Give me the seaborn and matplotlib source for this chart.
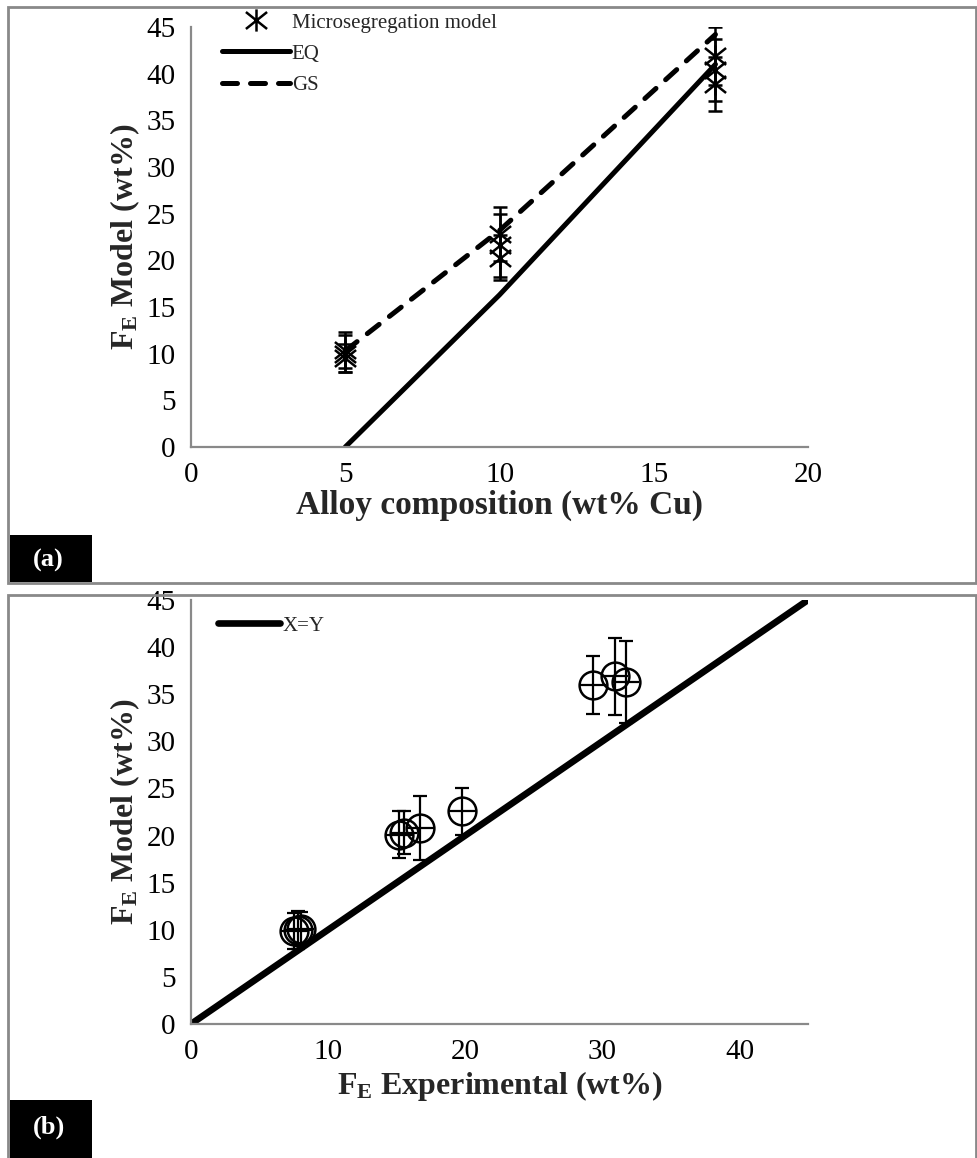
import matplotlib
matplotlib.use("Agg")
import matplotlib.pyplot as plt
import seaborn as sns
import numpy as np
import pandas as pd
from matplotlib.path import Path
from matplotlib.patches import Rectangle

# ---------------- data ----------------
# panel (a)
alloy_line = [5, 10, 17]
fe_eq = [0.0, 16.3, 41.0]
fe_gs = [10.3, 23.2, 44.2]
micro_x = [5, 5, 5, 10, 10, 10, 17, 17, 17]
micro_y = [9.5, 10.0, 10.4, 20.3, 21.6, 22.8, 38.9, 40.4, 41.9]
micro_err = [1.5, 2.0, 1.9, 2.4, 3.4, 2.9, 2.9, 3.3, 3.1]
xticks_a = [0, 5, 10, 15, 20]

# panel (b)
xy_line = [0, 45]
exp_x = [7.5, 7.8, 8.0, 15.2, 15.5, 16.7, 19.8, 29.3, 30.9, 31.7]
model_y = [9.9, 10.0, 10.1, 20.1, 20.3, 20.8, 22.6, 36.0, 36.9, 36.3]
model_err = [1.9, 2.0, 1.8, 2.5, 2.3, 3.4, 2.5, 3.1, 4.1, 4.4]
xticks_b = [0, 10, 20, 30, 40]
yticks = [0, 5, 10, 15, 20, 25, 30, 35, 40, 45]

# ---------------- style ----------------
sns.set_style("white")
plt.rcParams["font.family"] = ["Liberation Serif", "DejaVu Serif"]
plt.rcParams["mathtext.fontset"] = "custom"
plt.rcParams["mathtext.rm"] = "Liberation Serif"
plt.rcParams["mathtext.bf"] = "Liberation Serif:bold"
plt.rcParams["mathtext.it"] = "Liberation Serif:italic"

GRAY = "#898989"
W, H = 978, 1158
fig = plt.figure(figsize=(W / 100, H / 100), dpi=100)


def frac_rect(x0, y0, x1, y1):
    # pixel coords (top-left origin) -> figure fraction [l, b, w, h]
    return [x0 / W, (H - y1) / H, (x1 - x0) / W, (y1 - y0) / H]


# panel frames
for (x0, y0, x1, y1) in [(8, 7, 976, 583), (8, 595, 976, 1170)]:
    l, b, w, h = frac_rect(x0, y0, x1, y1)
    fig.add_artist(Rectangle((l, b), w, h, transform=fig.transFigure,
                             facecolor="none", edgecolor=GRAY, lw=2.0))

# label boxes
for (x0, y0, x1, y1, txt) in [(10, 535, 92, 582, "(a)"), (10, 1100, 92, 1160, "(b)")]:
    l, b, w, h = frac_rect(x0, y0, x1, y1)
    fig.add_artist(Rectangle((l, b), w, h, transform=fig.transFigure,
                             facecolor="black", edgecolor="none"))
    fig.text(l + w * 0.47, b + h * 0.45 if txt == "(a)" else b + h * 0.55, txt,
             color="white", fontsize=19, fontweight="bold",
             ha="center", va="center")

ax1 = fig.add_axes(frac_rect(191, 27, 808, 447))
ax2 = fig.add_axes(frac_rect(191, 600, 808, 1024))


def style_axes(ax):
    for s in ["top", "right"]:
        ax.spines[s].set_visible(False)
    for s in ["left", "bottom"]:
        ax.spines[s].set_color(GRAY)
        ax.spines[s].set_linewidth(1.6)
    ax.tick_params(axis="both", direction="out", length=6, width=1.4,
                   color=GRAY, labelsize=21, labelcolor="black", pad=5)
    ax.set_yticks(yticks)
    ax.set_ylim(0, 45)
    ax.grid(False)


# asterisk marker (X with vertical bar)
ast = Path([(-1, -0.8), (1, 0.8), (-1, 0.8), (1, -0.8), (0, -1.05), (0, 1.05)],
           [Path.MOVETO, Path.LINETO] * 3)

# ---------------- panel (a) ----------------
ax1.errorbar(micro_x, micro_y, yerr=micro_err, fmt="none", ecolor="black",
             elinewidth=1.8, capsize=5, capthick=1.8, zorder=3)
ax1.plot(micro_x, micro_y, linestyle="none", marker=ast, markersize=16,
         markeredgewidth=1.8, color="black", mfc="none", zorder=4,
         label="Microsegregation model")
sns.lineplot(x=alloy_line, y=fe_eq, ax=ax1, color="black", lw=3.6,
             label="EQ", zorder=2)
sns.lineplot(x=alloy_line, y=fe_gs, ax=ax1, color="black", lw=3.6,
             linestyle=(0, (3.0, 2.6)), dash_capstyle="round",
             label="GS", zorder=2)
style_axes(ax1)
ax1.set_xlim(0, 20)
ax1.set_xticks(xticks_a)
ax1.set_xlabel("Alloy composition (wt% Cu)", fontsize=24, fontweight="bold",
               labelpad=1)
ax1.set_ylabel(r"$\mathbf{F_E}$ Model (wt%)", fontsize=23, fontweight="bold",
               labelpad=3)
ax1.legend(loc="upper left", bbox_to_anchor=(0.05, 1.033), frameon=False,
           fontsize=15, handlelength=3.25, handletextpad=0.1,
           labelspacing=0.55, borderpad=0, borderaxespad=0)

# ---------------- panel (b) ----------------
sns.lineplot(x=xy_line, y=xy_line, ax=ax2, color="black", lw=4.8,
             label="X=Y", zorder=2)
ax2.errorbar(exp_x, model_y, yerr=model_err, fmt="none", ecolor="black",
             elinewidth=1.6, capsize=5, capthick=1.6, zorder=3)
ax2.errorbar(exp_x, model_y, xerr=[1.0] * len(exp_x), fmt="none",
             ecolor="black", elinewidth=1.6, capsize=0, zorder=3)
ax2.plot(exp_x, model_y, linestyle="none", marker="o", markersize=20,
         markeredgewidth=1.8, mec="black", mfc="none", zorder=4)
style_axes(ax2)
ax2.set_xlim(0, 45)
ax2.set_xticks(xticks_b)
ax2.set_xlabel(r"$\mathbf{F_E}$ Experimental (wt%)", fontsize=23,
               fontweight="bold", labelpad=3)
ax2.set_ylabel(r"$\mathbf{F_E}$ Model (wt%)", fontsize=23, fontweight="bold",
               labelpad=3)
ax2.legend(loc="upper left", bbox_to_anchor=(0.043, 0.962), frameon=False,
           fontsize=15, handlelength=3.0, handletextpad=0.1,
           borderpad=0, borderaxespad=0)

fig.savefig("out.png", dpi=100)
